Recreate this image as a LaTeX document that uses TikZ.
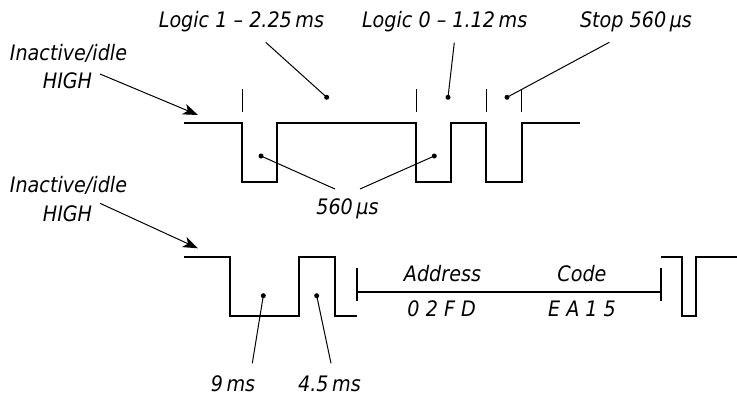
\documentclass[tikz,border=0pt]{standalone}
\usepackage{fontspec}
\setmainfont{DejaVu Sans Condensed}
\usetikzlibrary{arrows.meta}
\tikzset{
  lbl/.style={font=\fontsize{21.3}{24}\selectfont\itshape, inner sep=0pt, anchor=base},
  wave/.style={line width=2pt, line join=miter},
  tick/.style={line width=1pt},
  lead/.style={line width=1pt},
  dotn/.style={circle, fill=black, inner sep=0pt, minimum size=5pt},
  arr/.style={line width=1pt, -{Stealth[length=15pt,width=11pt,inset=4pt]}}
}
\begin{document}
\begin{tikzpicture}[x=1pt,y=-1pt]
\useasboundingbox (0,0) rectangle (737,400);
\fill[white] (0,0) rectangle (737,400);

% labels
\node[lbl] (l1) at (241.5,27) {Logic 1 – 2.25\,ms};
\node[lbl] (l0) at (444.7,27) {Logic 0 – 1.12\,ms};
\node[lbl] (stop) at (636,27) {Stop 560\,µs};
\node[lbl] (ia1) at (68.5,60) {Inactive/idle};
\node[lbl] (hi1) at (67.5,88.5) {HIGH};
\node[lbl] (p560) at (347.5,214) {560\,µs};
\node[lbl] (ia2) at (68.5,192) {Inactive/idle};
\node[lbl] (hi2) at (67.5,221) {HIGH};
\node[lbl] (addr) at (442.5,281) {Address};
\node[lbl] (code) at (582,281) {Code};
\node[lbl] (addrv) at (441.7,316) {0 2 F D};
\node[lbl] (codev) at (582,316) {E A 1 5};
\node[lbl] (n9) at (233,391.7) {9\,ms};
\node[lbl] (n45) at (329.5,391.7) {4.5\,ms};

% top waveform
\draw[wave] (184,123.3) -- (242,123.3) -- (242,182) -- (277,182) -- (277,123.3)
  -- (416,123.3) -- (416,182) -- (451,182) -- (451,123.3) -- (486.3,123.3)
  -- (486.3,182) -- (521.7,182) -- (521.7,123.3) -- (580,123.3);
\foreach \x in {242,416,486.3,521.7} \draw[tick] (\x,89) -- (\x,112);

% bottom waveform
\draw[wave] (184,257.3) -- (230,257.3) -- (230,315.5) -- (299,315.5) -- (299,257.3)
  -- (335,257.3) -- (335,315.5) -- (357,315.5);
\draw[wave] (357,267.7) -- (357,300.7);
\draw[wave] (357,291.5) -- (661,291.5);
\draw[wave] (661,267.7) -- (661,300.7);
\draw[wave] (661,256.7) -- (682.3,256.7) -- (682.3,315.7) -- (695.7,315.7) -- (695.7,256.7) -- (737,256.7);

% dots
\node[dotn] (d1) at (326.7,97.3) {};
\node[dotn] (d0) at (448,97.3) {};
\node[dotn] (ds) at (507,97.3) {};
\node[dotn] (dp1) at (261,156) {};
\node[dotn] (dp2) at (434.3,156) {};
\node[dotn] (d9) at (263.3,295.7) {};
\node[dotn] (d45) at (316.7,295.7) {};

% leader start points
\coordinate (s1) at (265.7,42.3);
\coordinate (s0) at (454.3,42.7);
\coordinate (ss) at (609.3,42.3);
\coordinate (sp1) at (335,189);
\coordinate (sp2) at (360,189);
\coordinate (s9) at (252.3,363.3);
\coordinate (s45) at (331,363.3);
\coordinate (a1s) at (100,74);
\coordinate (a1t) at (198,115);
\coordinate (a2s) at (100,203.3);
\coordinate (a2t) at (198,248.3);

\draw[lead] (s1) -- (d1.center);
\draw[lead] (s0) -- (d0.center);
\draw[lead] (ss) -- (ds.center);
\draw[lead] (sp1) -- (dp1.center);
\draw[lead] (sp2) -- (dp2.center);
\draw[lead] (s9) -- (d9.center);
\draw[lead] (s45) -- (d45.center);
\draw[arr] (a1s) -- (a1t);
\draw[arr] (a2s) -- (a2t);
\end{tikzpicture}
\end{document}
